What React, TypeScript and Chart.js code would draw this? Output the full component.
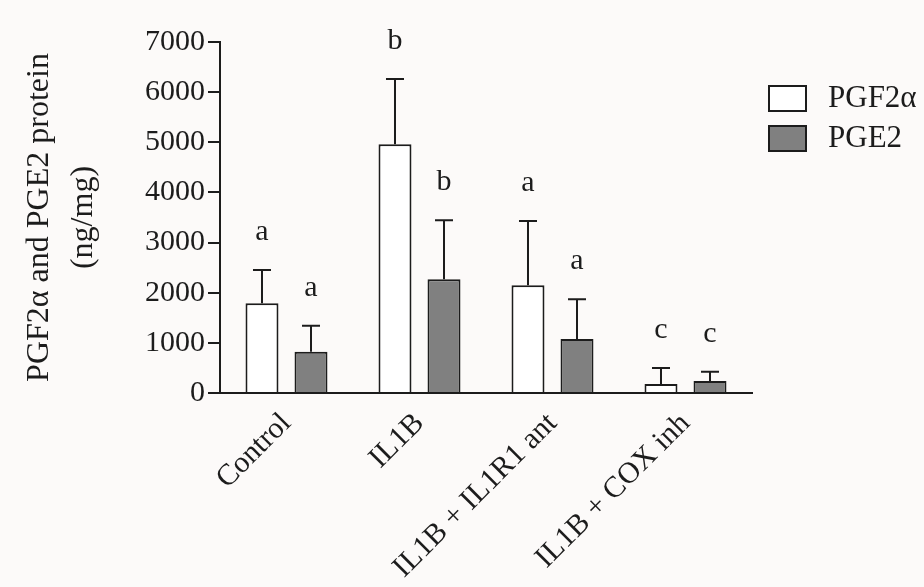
import React, { useEffect, useRef } from "react";
import { Chart, registerables } from "chart.js";

Chart.register(...registerables);

const categories = ["Control", "IL1B", "IL1B + IL1R1 ant", "IL1B + COX inh"];
const pgf2aValues = [1790, 4960, 2150, 180];
const pgf2aErrors = [665, 1300, 1280, 320];
const pge2Values = [825, 2270, 1075, 240];
const pge2Errors = [515, 1175, 795, 185];
const pgf2aLetters = ["a", "b", "a", "c"];
const pge2Letters = ["a", "b", "a", "c"];
const yTicks = [0, 1000, 2000, 3000, 4000, 5000, 6000, 7000];

const FONT = "'Liberation Serif', 'Times New Roman', serif";
const INK = "#1c1c1c";
const BG = "#fcfaf9";

const bgPlugin = {
  id: "bg",
  beforeDraw(chart: any) {
    const ctx = chart.ctx;
    ctx.save();
    ctx.fillStyle = BG;
    ctx.fillRect(0, 0, chart.width, chart.height);
    ctx.restore();
  },
};

const errorPlugin = {
  id: "errs",
  afterDatasetsDraw(chart: any) {
    const ctx = chart.ctx;
    const yScale = chart.scales.y;
    chart.data.datasets.forEach((ds: any, i: number) => {
      const meta = chart.getDatasetMeta(i);
      meta.data.forEach((el: any, j: number) => {
        const v = ds.data[j];
        const e = ds.errors[j];
        const x = el.x;
        const yTop = yScale.getPixelForValue(v);
        const yErr = yScale.getPixelForValue(v + e);
        ctx.save();
        ctx.strokeStyle = INK;
        ctx.lineWidth = 2;
        ctx.beginPath();
        ctx.moveTo(x, yTop);
        ctx.lineTo(x, yErr);
        ctx.moveTo(x - 9, yErr);
        ctx.lineTo(x + 9, yErr);
        ctx.stroke();
        ctx.fillStyle = INK;
        ctx.font = `30px ${FONT}`;
        ctx.textAlign = "center";
        ctx.textBaseline = "middle";
        ctx.fillText(ds.letters[j], x, yErr - 38);
        ctx.restore();
      });
    });
  },
};

const legendPlugin = {
  id: "customLegend",
  afterDraw(chart: any) {
    const ctx = chart.ctx;
    chart.data.datasets.forEach((ds: any, i: number) => {
      const bx = 768;
      const by = 85 + i * 40;
      ctx.save();
      ctx.fillStyle = ds.backgroundColor;
      ctx.fillRect(bx, by, 39, 27);
      ctx.strokeStyle = INK;
      ctx.lineWidth = 2;
      ctx.strokeRect(bx + 1, by + 1, 37, 25);
      ctx.fillStyle = INK;
      ctx.font = `31px ${FONT}`;
      ctx.textAlign = "left";
      ctx.textBaseline = "middle";
      ctx.fillText(ds.label, 828, by + 14);
      ctx.restore();
    });
  },
};

export default function App() {
  const ref = useRef<HTMLCanvasElement | null>(null);
  useEffect(() => {
    if (!ref.current) return;
    const chart = new Chart(ref.current, {
      type: "bar",
      data: {
        labels: categories,
        datasets: [
          {
            label: "PGF2α",
            data: pgf2aValues,
            errors: pgf2aErrors,
            letters: pgf2aLetters,
            backgroundColor: "#ffffff",
            borderColor: INK,
            borderWidth: 2,
            categoryPercentage: 0.737,
            barPercentage: 0.673,
          } as any,
          {
            label: "PGE2",
            data: pge2Values,
            errors: pge2Errors,
            letters: pge2Letters,
            backgroundColor: "#808080",
            borderColor: INK,
            borderWidth: 2,
            categoryPercentage: 0.737,
            barPercentage: 0.673,
          } as any,
        ],
      },
      options: {
        animation: false,
        responsive: false,
        devicePixelRatio: 1,
        layout: { padding: { left: 0, right: 172, top: 42, bottom: 0 } },
        plugins: {
          legend: { display: false },
          tooltip: { enabled: false },
        },
        scales: {
          x: {
            grid: { display: false, drawTicks: false },
            border: { display: true, color: INK, width: 2 },
            ticks: {
              color: INK,
              font: { family: FONT, size: 30 },
              maxRotation: 45,
              minRotation: 45,
              autoSkip: false,
              padding: 13,
            },
            afterFit(scale: any) {
              scale.height = 194;
            },
          },
          y: {
            min: 0,
            max: 7000,
            afterBuildTicks(scale: any) {
              scale.ticks = yTicks.map((v) => ({ value: v }));
            },
            grid: {
              display: true,
              drawOnChartArea: false,
              drawTicks: true,
              tickLength: 12,
              color: INK,
              lineWidth: 2,
            },
            border: { display: true, color: INK, width: 2 },
            ticks: {
              color: INK,
              font: { family: FONT, size: 30 },
              padding: 3,
              callback: (v: any) => String(v),
            },
            title: {
              display: true,
              text: ["PGF2α and PGE2 protein", "(ng/mg)"],
              color: INK,
              font: { family: FONT, size: 32, lineHeight: 1.36 },
              padding: { top: 18, bottom: 0 },
            },
            afterFit(scale: any) {
              scale.width = 220;
            },
          },
        },
      } as any,
      plugins: [bgPlugin, errorPlugin, legendPlugin],
    });
    return () => chart.destroy();
  }, []);
  return (
    <div style={{ position: "absolute", left: 0, top: 0, width: 924, height: 587 }}>
      <canvas ref={ref} width={924} height={587} style={{ width: 924, height: 587 }} />
    </div>
  );
}
